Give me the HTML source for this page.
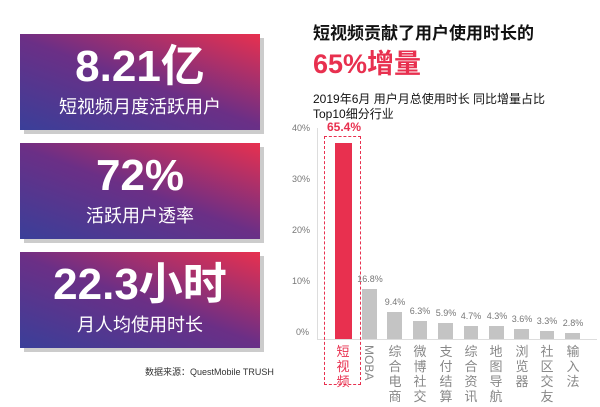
<!DOCTYPE html><html><head><meta charset="utf-8"><style>
body{margin:0;width:600px;height:407px;background:#fff;position:relative;overflow:hidden;font-family:"Liberation Sans","Noto Sans CJK SC",sans-serif}
.box{position:absolute;left:20px;width:240px;height:96px;background:linear-gradient(20deg,#3a3f99 0%,#6b2f86 50%,#e8304f 100%);color:#fff;text-align:center;box-shadow:4px 4px 0 #ccc}
.big{position:absolute;left:0;right:0;top:8px;font-size:44px;font-weight:bold;line-height:50px}
.sub{position:absolute;left:0;right:0;top:62px;font-size:18px;line-height:22px}
.a{position:absolute;font-size:9px;color:#777}
.bar{position:absolute;background:#c4c4c4}
.v{position:absolute;font-size:9px;color:#777;width:30px;text-align:center}
.c{position:absolute;top:344px;font-size:13px;color:#888;width:16px;line-height:15px;text-align:center}
</style></head><body>
<div class="box" style="top:34px"><div class="big">8.21亿</div><div class="sub">短视频月度活跃用户</div></div>
<div class="box" style="top:143px"><div class="big">72%</div><div class="sub">活跃用户透率</div></div>
<div class="box" style="top:252px"><div class="big">22.3小时</div><div class="sub">月人均使用时长</div></div>
<div style="position:absolute;left:145px;top:365px;font-size:9px;color:#333">数据来源：QuestMobile TRUSH</div>
<div style="position:absolute;left:313px;top:19px;font-size:17px;font-weight:bold;color:#111">短视频贡献了用户使用时长的</div>
<div style="position:absolute;left:313px;top:42px;font-size:27px;font-weight:bold;color:#e8304f">65%增量</div>
<div style="position:absolute;left:313px;top:92px;font-size:12px;color:#111;line-height:15px">2019年6月 用户月总使用时长 同比增量占比<br>Top10细分行业</div>
<div class="a" style="left:292px;top:123px">40%</div>
<div class="a" style="left:292px;top:174px">30%</div>
<div class="a" style="left:292px;top:225px">20%</div>
<div class="a" style="left:292px;top:276px">10%</div>
<div class="a" style="left:296px;top:327px">0%</div>
<div style="position:absolute;left:317px;top:128px;width:1px;height:211px;background:#ddd"></div>
<div style="position:absolute;left:317px;top:339px;width:280px;height:1px;background:#ddd"></div>
<div style="position:absolute;left:324px;top:136px;width:35px;height:247px;border:1.5px dashed #e8304f"></div>
<div style="position:absolute;left:327px;top:120px;font-size:12px;font-weight:bold;color:#e8304f">65.4%</div>
<div class="bar" style="left:335px;top:143px;width:17px;height:196px;background:#e8304f"></div>
<div class="bar" style="left:362px;top:289px;width:15px;height:50px"></div>
<div class="bar" style="left:387px;top:312px;width:15px;height:27px"></div>
<div class="bar" style="left:413px;top:321px;width:14px;height:18px"></div>
<div class="bar" style="left:438px;top:323px;width:15px;height:16px"></div>
<div class="bar" style="left:464px;top:326px;width:14px;height:13px"></div>
<div class="bar" style="left:489px;top:326px;width:15px;height:13px"></div>
<div class="bar" style="left:514px;top:329px;width:15px;height:10px"></div>
<div class="bar" style="left:540px;top:331px;width:14px;height:8px"></div>
<div class="bar" style="left:565px;top:333px;width:15px;height:6px"></div>
<div class="v" style="left:355px;top:274px">16.8%</div>
<div class="v" style="left:380px;top:297px">9.4%</div>
<div class="v" style="left:405px;top:306px">6.3%</div>
<div class="v" style="left:431px;top:308px">5.9%</div>
<div class="v" style="left:456px;top:311px">4.7%</div>
<div class="v" style="left:482px;top:311px">4.3%</div>
<div class="v" style="left:507px;top:314px">3.6%</div>
<div class="v" style="left:532px;top:316px">3.3%</div>
<div class="v" style="left:558px;top:318px">2.8%</div>
<div class="c" style="left:335px;color:#e8304f">短视频</div>
<div style="position:absolute;left:362px;top:345px;font-size:12px;color:#888;writing-mode:vertical-rl">MOBA</div>
<div class="c" style="left:387px">综合电商</div>
<div class="c" style="left:412px">微博社交</div>
<div class="c" style="left:438px">支付结算</div>
<div class="c" style="left:463px">综合资讯</div>
<div class="c" style="left:488px">地图导航</div>
<div class="c" style="left:514px">浏览器</div>
<div class="c" style="left:539px">社区交友</div>
<div class="c" style="left:565px">输入法</div>
</body></html>
